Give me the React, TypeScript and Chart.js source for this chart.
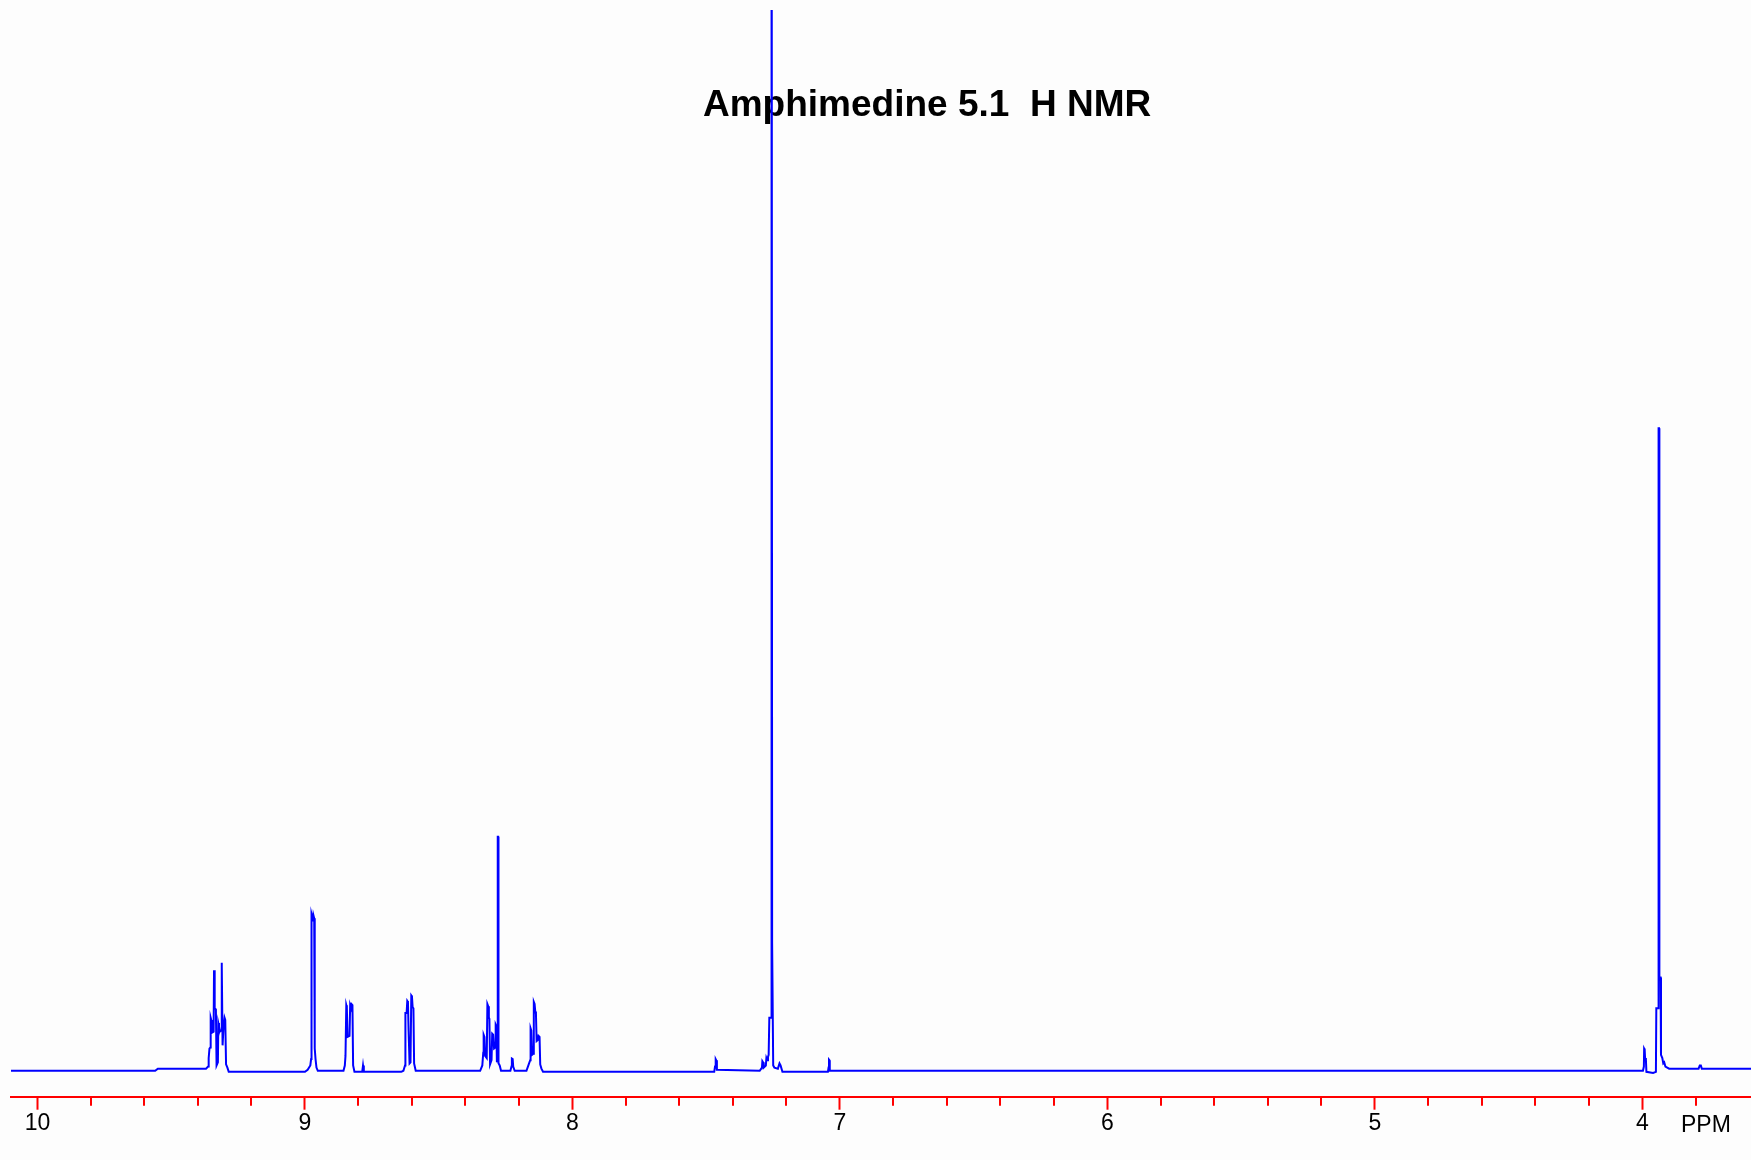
import React, { useEffect, useRef } from "react";
import { Chart, registerables } from "chart.js";

Chart.register(...registerables);

// ---------- text ----------
const TITLE = "Amphimedine 5.1  H NMR";
const AXIS_UNIT = "PPM";

// ---------- axis ----------
const PPM_LEFT = 10.099;
const PPM_RIGHT = 3.594;
const MAJOR_TICKS = [10, 9, 8, 7, 6, 5, 4];
const MINOR_TICKS = [
  9.8, 9.6, 9.4, 9.2, 8.8, 8.6, 8.4, 8.2, 7.8, 7.6, 7.4, 7.2, 6.8, 6.6, 6.4, 6.2,
  5.8, 5.6, 5.4, 5.2, 4.8, 4.6, 4.4, 4.2, 3.8,
];
const INTENSITY_MIN = -2.65;
const INTENSITY_MAX = 100;

// ---------- spectrum trace: [ppm, intensity] ----------
const baselineHigh: [number, number][] = [
  [10.099, -0.2],
  [9.56, -0.2],
  [9.55, 0],
  [9.4, 0],
];

const multiplet935: [number, number][] = [
  [9.37, 0], [9.362, 0.2], [9.36, 1.0], [9.357, 1.9], [9.354, 2.0],
  [9.3525, 4.8], [9.3505, 4.6], [9.348, 3.4], [9.3415, 3.5], [9.34, 9.3],
  [9.3385, 9.0], [9.3365, 5.7], [9.333, 5.6], [9.3305, 0.3], [9.3255, 0.6],
  [9.324, 4.3], [9.3215, 4.0], [9.318, 3.5], [9.3135, 3.6], [9.3118, 10.0],
  [9.3103, 9.7], [9.308, 2.2], [9.305, 3.7], [9.3005, 4.8], [9.298, 4.6],
  [9.295, 0.4], [9.29, 0.1], [9.285, -0.3], [9.0, -0.3],
];

const doublet897: [number, number][] = [
  [8.99, -0.1], [8.98, 0.3], [8.977, 0.9], [8.9755, 14.6], [8.9725, 14.3],
  [8.9705, 13.9], [8.9685, 14.5], [8.9655, 14.2], [8.9635, 1.9], [8.9605, 0.9],
  [8.957, 0.1], [8.952, -0.2], [8.86, -0.2],
];

const multiplet883: [number, number][] = [
  [8.856, -0.2], [8.851, 0.3], [8.8485, 1.2], [8.8455, 6.0], [8.8435, 5.8],
  [8.841, 3.0], [8.8335, 3.1], [8.831, 6.0], [8.8285, 5.8], [8.826, 6.1],
  [8.8225, 6.0], [8.82, 0.3], [8.815, -0.3], [8.786, -0.3], [8.783, 0.3],
  [8.78, -0.3], [8.64, -0.3],
];

const multiplet861: [number, number][] = [
  [8.632, -0.2], [8.626, 0.3], [8.6245, 5.25], [8.62, 5.25], [8.6175, 6.4],
  [8.615, 6.3], [8.6125, 3.5], [8.609, 0.5], [8.6055, 0.6], [8.6025, 6.9],
  [8.6, 6.8], [8.5975, 5.8], [8.5945, 5.7], [8.592, 0.5], [8.586, -0.2],
  [8.35, -0.2],
];

const multiplet830: [number, number][] = [
  [8.345, -0.2], [8.337, 0.3], [8.3335, 1.5], [8.332, 3.2], [8.329, 3.0],
  [8.3265, 1.2], [8.3205, 1.0], [8.318, 6.1], [8.315, 5.9], [8.3125, 4.85],
  [8.3105, 4.7], [8.308, 0.4], [8.3025, 0.8], [8.3, 3.3], [8.2965, 3.2],
  [8.293, 1.9], [8.2885, 2.0], [8.287, 4.15], [8.2845, 4.0], [8.2825, 0.6],
  [8.2805, 1.0], [8.2793, 21.9], [8.2778, 21.9], [8.2765, 0.5], [8.272, 0.3],
  [8.267, -0.2], [8.232, -0.2], [8.228, 0.2], [8.2265, 0.95], [8.2235, 0.9],
  [8.2215, 0.2], [8.216, -0.2], [8.175, -0.2],
];

const multiplet814: [number, number][] = [
  [8.172, -0.2], [8.1635, 0.4], [8.158, 0.8], [8.1565, 3.8], [8.154, 3.6],
  [8.151, 1.3], [8.1465, 1.4], [8.1445, 6.3], [8.1415, 6.1], [8.139, 5.4],
  [8.1365, 5.2], [8.134, 2.6], [8.1295, 2.7], [8.127, 3.1], [8.123, 3.0],
  [8.1205, 0.4], [8.116, 0], [8.11, -0.3], [7.47, -0.3], [7.467, 0.2],
  [7.4645, 0.9], [7.4625, 0.8], [7.46, -0.1], [7.3, -0.2],
];

const solvent726: [number, number][] = [
  [7.2915, 0.1], [7.29, 0.7], [7.2875, 0.6], [7.285, 0.1], [7.277, 0.3],
  [7.275, 1.0], [7.272, 0.8], [7.269, 1.1], [7.2665, 1.3], [7.264, 4.8],
  [7.2575, 4.8], [7.2565, 150], [7.2548, 150], [7.2535, 11.85], [7.2505, 11.85],
  [7.2495, 0.3], [7.245, 0.1], [7.232, 0.0], [7.226, 0.5], [7.222, 0.3],
  [7.215, -0.3], [7.045, -0.3], [7.0425, 0.1], [7.041, 0.85], [7.0395, 0.8],
  [7.038, -0.2], [4.02, -0.2],
];

const singlet394: [number, number][] = [
  [3.998, -0.2], [3.9945, 0.2], [3.9935, 1.9], [3.9915, 1.8], [3.99, 1.0],
  [3.987, 0.9], [3.985, -0.3], [3.96, -0.4], [3.9495, -0.3], [3.948, 5.7],
  [3.9405, 5.7], [3.9395, 60.5], [3.9378, 60.5], [3.9365, 8.6], [3.932, 8.6],
  [3.9305, 1.3], [3.9255, 1.0], [3.922, 0.5], [3.9185, 0.6], [3.914, 0.2],
  [3.9, 0], [3.79, 0], [3.7855, 0.3], [3.7815, 0.3], [3.778, 0], [3.594, 0],
];

// ---------- styles ----------
const BG = "#fdfdfd";
const TRACE_COLOR = "#0000ff";
const AXIS_COLOR = "#ff0000";
const TEXT_COLOR = "#000000";
const FONT = "'Liberation Sans', Arial, sans-serif";

const W = 1751;
const H = 1160;

export default function App() {
  const canvasRef = useRef<HTMLCanvasElement | null>(null);

  useEffect(() => {
    document.body.style.margin = "0";
    document.body.style.overflow = "hidden";
    const canvas = canvasRef.current;
    if (!canvas) return;

    const trace = [
      ...baselineHigh,
      ...multiplet935,
      ...doublet897,
      ...multiplet883,
      ...multiplet861,
      ...multiplet830,
      ...multiplet814,
      ...solvent726,
      ...singlet394,
    ].map(([x, y]) => ({ x, y }));

    const decor = {
      id: "nmrDecor",
      beforeDraw(chart: any) {
        const ctx = chart.ctx;
        ctx.save();
        ctx.fillStyle = BG;
        ctx.fillRect(0, 0, chart.width, chart.height);
        ctx.restore();
      },
      beforeDatasetsDraw(chart: any) {
        const ctx = chart.ctx;
        ctx.save();
        ctx.fillStyle = TEXT_COLOR;
        ctx.font = `bold 37px ${FONT}`;
        ctx.textAlign = "left";
        ctx.textBaseline = "alphabetic";
        ctx.fillText(TITLE, 703, 116);
        ctx.restore();
      },
      afterDraw(chart: any) {
        const ctx = chart.ctx;
        const xs = chart.scales.x;
        const y0 = chart.chartArea.bottom;
        ctx.save();
        ctx.strokeStyle = AXIS_COLOR;
        ctx.lineWidth = 2;
        ctx.beginPath();
        for (const v of MINOR_TICKS) {
          const px = Math.round(xs.getPixelForValue(v));
          ctx.moveTo(px, y0);
          ctx.lineTo(px, y0 + 9);
        }
        ctx.stroke();
        ctx.fillStyle = TEXT_COLOR;
        ctx.font = `23px ${FONT}`;
        ctx.textAlign = "left";
        ctx.textBaseline = "alphabetic";
        ctx.fillText(AXIS_UNIT, 1681, 1132);
        ctx.restore();
      },
    };

    const chart = new Chart(canvas, {
      type: "line",
      data: {
        datasets: [
          {
            data: trace,
            borderColor: TRACE_COLOR,
            borderWidth: 2,
            pointRadius: 0,
            tension: 0,
            fill: false,
          },
        ],
      },
      options: {
        animation: false,
        responsive: false,
        devicePixelRatio: 1,
        layout: { padding: { left: 11, right: 0, top: 10, bottom: 0 } },
        plugins: {
          legend: { display: false },
          tooltip: { enabled: false },
          title: { display: false },
        },
        scales: {
          x: {
            type: "linear",
            reverse: true,
            min: PPM_RIGHT,
            max: PPM_LEFT,
            position: "bottom",
            afterBuildTicks: (scale: any) => {
              scale.ticks = MAJOR_TICKS.map((v) => ({ value: v }));
            },
            afterFit: (scale: any) => {
              scale.height = H - 1096.7;
            },
            border: { display: true, color: AXIS_COLOR, width: 2 },
            grid: {
              display: true,
              drawOnChartArea: false,
              drawTicks: true,
              tickLength: 13,
              tickColor: AXIS_COLOR,
              tickWidth: 2,
            },
            ticks: {
              autoSkip: false,
              maxRotation: 0,
              minRotation: 0,
              padding: 0,
              color: TEXT_COLOR,
              font: { family: FONT, size: 23 },
              callback: (v: any) => String(v),
            },
          },
          y: {
            display: false,
            min: INTENSITY_MIN,
            max: INTENSITY_MAX,
          },
        },
      },
      plugins: [decor],
    } as any);

    return () => chart.destroy();
  }, []);

  return (
    <div style={{ position: "absolute", left: 0, top: 0, width: W, height: H }}>
      <canvas ref={canvasRef} width={W} height={H} style={{ display: "block" }} />
    </div>
  );
}
